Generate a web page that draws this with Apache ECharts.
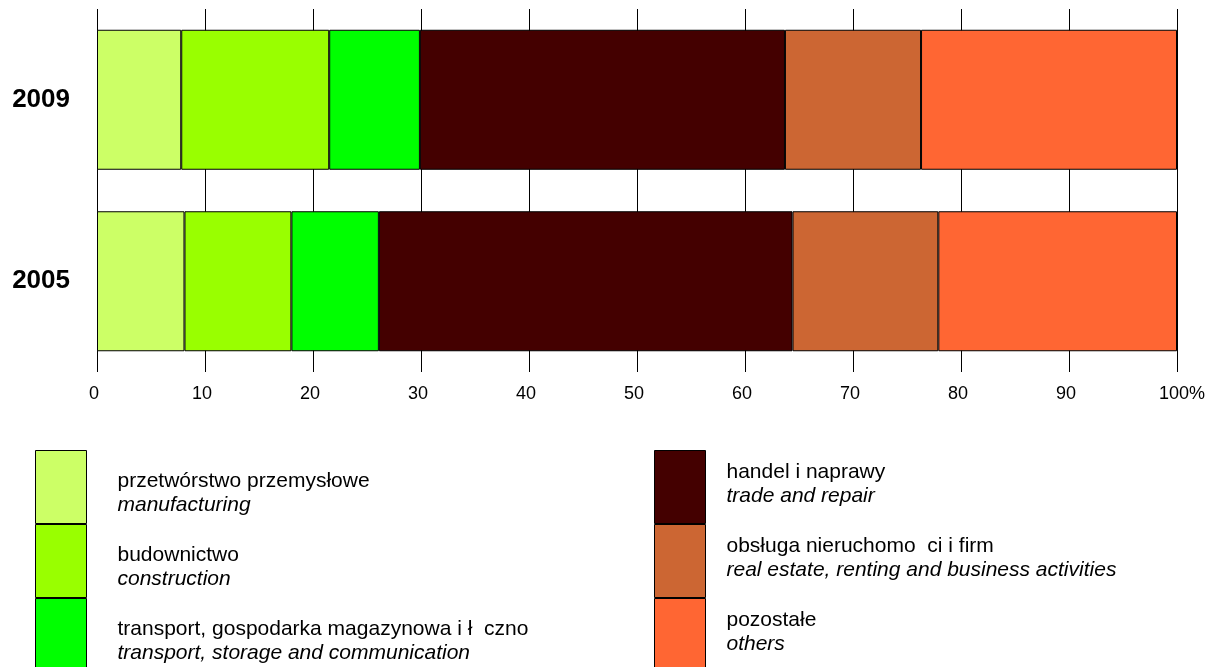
<!DOCTYPE html>
<html>
<head>
<meta charset="utf-8">
<script src="https://cdn.jsdelivr.net/npm/echarts@6/dist/echarts.min.js"></script>
<style>html,body{margin:0;padding:0;background:#fff}#c{width:1212px;height:667px}</style>
</head>
<body>
<div id="c"></div>
<script>
const years = ['2005', '2009'];
const seriesNamesPl = [
  'przetwórstwo przemysłowe',
  'budownictwo',
  'transport, gospodarka magazynowa i ł  czno',
  'handel i naprawy',
  'obsługa nieruchomo  ci i firm',
  'pozostałe'
];
const seriesNamesEn = [
  'manufacturing',
  'construction',
  'transport, storage and communication',
  'trade and repair',
  'real estate, renting and business activities',
  'others'
];
// values per series: [2005, 2009]
const manufacturing = [8.1, 7.8];
const construction = [9.9, 13.7];
const transport = [8.1, 8.4];
const trade = [38.3, 33.8];
const realEstate = [13.5, 12.6];
const others = [22.1, 23.7];
const xTicks = [0, 10, 20, 30, 40, 50, 60, 70, 80, 90, 100];
const colors = ['#CCFF66', '#99FF00', '#00FF00', '#440000', '#CC6633', '#FF6633'];

const values = [manufacturing, construction, transport, trade, realEstate, others];
const font = 'Liberation Sans, Arial, sans-serif';

const chart = echarts.init(document.getElementById('c'));
const series = values.map((v, i) => ({
  name: seriesNamesPl[i],
  type: 'bar',
  stack: 'total',
  barWidth: 140,
  data: v,
  itemStyle: { color: colors[i], borderColor: '#000', borderWidth: 1 },
  emphasis: { disabled: true }
}));

function legendCfg(names, left, textPadding) {
  return {
    orient: 'vertical',
    left: left,
    top: 450,
    height: 320,
    padding: 0,
    itemWidth: 51,
    itemHeight: 73,
    itemGap: 0,
    icon: 'rect',
    selectedMode: false,
    data: names,
    itemStyle: { borderColor: '#000', borderWidth: 1 },
    formatter: function (name) {
      const i = seriesNamesPl.indexOf(name);
      return '{a|' + seriesNamesPl[i] + '}\n{b|' + seriesNamesEn[i] + '}';
    },
    textStyle: {
      padding: textPadding,
      rich: {
        a: { fontFamily: font, fontSize: 21, color: '#000', lineHeight: 24 },
        b: { fontFamily: font, fontSize: 21, fontStyle: 'italic', color: '#000', lineHeight: 24 }
      }
    }
  };
}

chart.setOption({
  animation: false,
  backgroundColor: '#fff',
  grid: { left: 97, right: 35, top: 9, bottom: 295 },
  xAxis: {
    type: 'value',
    min: 0,
    max: 100,
    interval: 10,
    axisLine: { show: false },
    axisTick: { show: false },
    splitLine: { show: true, lineStyle: { color: '#000', width: 1 } },
    axisLabel: {
      margin: 13,
      color: '#000',
      fontFamily: font,
      fontSize: 18,
      padding: [0, 6, 0, 0],
      formatter: function (v) { return v === 100 ? '{s|}100%' : String(v); },
      rich: { s: { width: 16 } }
    }
  },
  yAxis: {
    type: 'category',
    data: years,
    axisLine: { show: false },
    axisTick: { show: false },
    splitLine: { show: false },
    axisLabel: {
      margin: 27,
      color: '#000',
      fontFamily: font,
      fontSize: 26,
      fontWeight: 'bold'
    }
  },
  legend: [
    legendCfg(seriesNamesPl.slice(0, 3), 35, [12, 0, 0, 26]),
    legendCfg(seriesNamesPl.slice(3, 6), 654, [0, 0, 6, 16])
  ],
  series: series
});
</script>
</body>
</html>
